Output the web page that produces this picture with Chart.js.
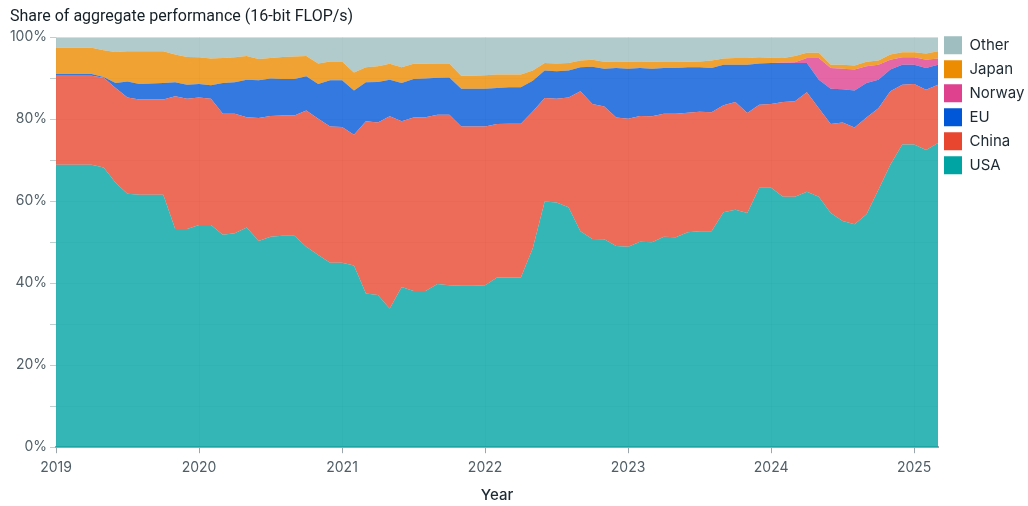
<!DOCTYPE html>
<html><head><meta charset="utf-8">
<script src="https://cdn.jsdelivr.net/npm/chart.js@4.4.1/dist/chart.umd.min.js"></script>
<style>html,body{margin:0;padding:0;background:#fff}canvas{display:block}</style>
</head><body>
<canvas id="c" width="1028" height="506"></canvas>
<script>
const months = [
"2019-01","2019-02","2019-03","2019-04","2019-05","2019-06","2019-07","2019-08","2019-09","2019-10","2019-11","2019-12",
"2020-01","2020-02","2020-03","2020-04","2020-05","2020-06","2020-07","2020-08","2020-09","2020-10","2020-11","2020-12",
"2021-01","2021-02","2021-03","2021-04","2021-05","2021-06","2021-07","2021-08","2021-09","2021-10","2021-11","2021-12",
"2022-01","2022-02","2022-03","2022-04","2022-05","2022-06","2022-07","2022-08","2022-09","2022-10","2022-11","2022-12",
"2023-01","2023-02","2023-03","2023-04","2023-05","2023-06","2023-07","2023-08","2023-09","2023-10","2023-11","2023-12",
"2024-01","2024-02","2024-03","2024-04","2024-05","2024-06","2024-07","2024-08","2024-09","2024-10","2024-11","2024-12",
"2025-01","2025-02","2025-03"];

const usa = [68.9,68.9,68.9,68.9,68.2,64.5,61.8,61.6,61.6,61.6,53.2,53.2,
54.2,54.2,51.8,52.2,53.6,50.3,51.3,51.6,51.6,48.9,46.9,45.0,
45.0,44.3,37.5,37.1,33.8,39.1,38.1,38.1,39.8,39.5,39.4,39.4,
39.5,41.4,41.4,41.4,48.5,59.9,59.7,58.5,52.7,50.8,50.7,49.1,
48.9,50.1,50.0,51.3,51.2,52.4,52.7,52.7,57.3,57.9,57.1,63.3,
63.3,61.1,61.1,62.3,61.1,57.1,55.2,54.4,56.8,62.8,68.9,73.8,
73.8,72.5,74.2];
const china = [21.7,21.7,21.7,21.7,21.9,23.1,23.5,23.2,23.2,23.2,32.4,31.8,
31.1,30.8,29.5,29.1,26.9,30.0,29.5,29.3,29.3,33.2,33.2,33.2,
33.1,31.9,42.0,42.1,46.9,40.4,42.3,42.4,41.3,41.6,38.8,38.8,
38.7,37.4,37.5,37.5,33.4,25.3,25.3,26.8,34.1,32.9,32.4,31.3,
31.2,30.7,30.7,30.0,30.1,29.2,29.1,29.0,26.1,26.3,24.4,20.2,
20.4,23.1,23.3,24.3,21.6,21.7,24.0,23.6,23.6,19.9,17.9,14.6,
14.8,14.7,14.2];
const eu = [0.4,0.4,0.4,0.4,0.2,1.2,3.9,3.8,3.9,4.0,3.4,3.4,
3.3,3.3,7.5,7.7,9.1,9.2,9.1,8.9,8.9,8.4,8.5,11.3,
11.4,10.8,9.5,9.9,8.9,9.3,9.4,9.4,9.0,9.1,9.2,9.2,
9.2,8.8,8.9,8.9,7.5,6.7,6.7,6.6,5.9,9.1,9.2,12.1,
12.2,11.7,11.6,11.2,11.2,11.1,10.9,10.8,9.9,9.1,11.8,10.1,
10.0,9.5,9.3,7.1,6.9,8.6,8.1,9.0,8.4,6.9,5.3,4.9,
4.7,5.3,4.9];
const norway = [0,0,0,0,0,0,0,0,0,0,0,0,
0,0,0,0,0,0,0,0,0,0,0,0,
0,0,0,0,0,0,0,0,0,0,0,0,
0,0,0,0,0,0,0,0,0,0,0,0,
0,0,0,0,0,0,0,0,0,0,0,0,
0,0.1,0.2,1.2,5.3,5.1,5.0,5.1,4.1,3.7,2.4,1.8,
1.8,2.0,1.5];
const japan = [6.4,6.4,6.4,6.4,6.5,7.6,7.4,8.0,7.9,7.8,6.8,6.8,
6.5,6.5,6.1,6.1,5.8,5.2,5.0,5.4,5.5,4.9,5.0,4.6,
4.6,4.4,3.7,3.8,3.9,3.9,3.7,3.6,3.5,3.4,3.2,3.2,
3.3,3.3,3.1,3.1,2.5,1.8,1.9,1.8,1.6,1.7,1.7,1.6,
1.7,1.6,1.7,1.6,1.6,1.3,1.4,1.8,1.5,1.6,1.6,1.5,
1.3,1.1,1.5,1.3,1.3,0.8,1.0,1.0,1.1,1.0,1.3,1.2,
1.2,1.5,1.8];
const other = [2.6,2.6,2.6,2.6,3.2,3.6,3.4,3.4,3.4,3.4,4.2,4.8,
4.9,5.2,5.1,4.9,4.6,5.3,5.1,4.8,4.7,4.6,6.4,5.9,
5.9,8.6,7.3,7.1,6.5,7.3,6.5,6.5,6.4,6.4,9.4,9.4,
9.3,9.1,9.1,9.1,8.1,6.3,6.4,6.3,5.7,5.5,6.0,5.9,
6.0,5.9,6.0,5.9,5.9,6.0,5.9,5.7,5.2,5.1,5.1,4.9,
5.0,5.1,4.6,3.8,3.8,6.7,6.7,6.9,6.0,5.7,4.2,3.7,
3.7,4.0,3.4];

const yearTicks = [2019, 2020, 2021, 2022, 2023, 2024, 2025];
const yTickLabels = ["0%","20%","40%","60%","80%","100%"];
const seriesNames = ["USA","China","EU","Norway","Japan","Other"];
const seriesValues = [usa, china, eu, norway, japan, other];
const seriesColors = ["#00a4a2","#e8462f","#0057d8","#e0418e","#ec8c00","#9ebebf"];

function rgba(hex, a){
  const n = parseInt(hex.slice(1),16);
  return `rgba(${(n>>16)&255},${(n>>8)&255},${n&255},${a})`;
}
const xs = months.map(m => { const [y, mo] = m.split("-").map(Number); return y + (mo-1)/12; });

const FONT = "Inter, 'Noto Sans', sans-serif";
const TEXT = "#1d2a33";
const TICK = "#4f5e66";

const datasets = seriesNames.map((name, i) => ({
  label: name,
  data: seriesValues[i].map((v, j) => ({x: xs[j], y: v})),
  backgroundColor: rgba(seriesColors[i], 0.8),
  borderColor: rgba(seriesColors[i], 0),
  borderWidth: 0,
  pointRadius: 0,
  pointHoverRadius: 0,
  fill: i === 0 ? "origin" : "-1",
  tension: 0
}));

const legendPlacer = {
  id: "legendPlacer",
  beforeLayout(chart) {
    const lg = chart.legend;
    if (lg && !lg._wrappedFit) {
      const orig = lg.fit.bind(lg);
      lg.fit = function () { orig(); this.width = 90; };
      lg._wrappedFit = true;
    }
  },
  afterLayout(chart) {
    if (chart.legend) chart.legend.top = chart.chartArea.top - 7;
  }
};

new Chart(document.getElementById("c"), {
  type: "line",
  data: { datasets },
  plugins: [legendPlacer],
  options: {
    responsive: false,
    animation: false,
    devicePixelRatio: 1,
    layout: { padding: { left: 10, right: 0, top: 0, bottom: 2 } },
    interaction: { mode: "index", intersect: false },
    plugins: {
      tooltip: { enabled: false },
      title: {
        display: true,
        text: "Share of aggregate performance (16-bit FLOP/s)",
        align: "start",
        color: "#141f26",
        font: { family: "Roboto, Inter, sans-serif", size: 16, weight: "400" },
        padding: { top: 7, bottom: 11 }
      },
      legend: {
        position: "right",
        align: "start",
        reverse: true,
        labels: {
          boxWidth: 18,
          boxHeight: 18,
          padding: 6,
          color: TEXT,
          font: { family: FONT, size: 15 },
          generateLabels(chart) {
            const items = Chart.defaults.plugins.legend.labels.generateLabels(chart);
            return items.map(it => Object.assign(it, {
              fillStyle: seriesColors[it.datasetIndex],
              strokeStyle: seriesColors[it.datasetIndex],
              lineWidth: 0
            }));
          }
        }
      }
    },
    scales: {
      x: {
        type: "linear",
        min: xs[0],
        max: xs[xs.length - 1],
        afterBuildTicks(scale) {
          scale.ticks = yearTicks.map(v => ({ value: v }));
        },
        ticks: {
          color: TICK,
          padding: 6,
          maxRotation: 0,
          autoSkip: false,
          font: { family: FONT, size: 14 },
          callback: v => String(v)
        },
        grid: { color: "rgba(0,60,60,0.07)", tickColor: "#9aa6ab", tickLength: 6 },
        border: { color: "#9aa6ab", width: 2 },
        title: {
          display: true,
          text: "Year",
          color: TEXT,
          font: { family: FONT, size: 15, weight: "500" },
          padding: { top: 4, bottom: 0 }
        }
      },
      y: {
        stacked: true,
        min: 0,
        max: 100,
        afterFit(scale) { scale.width = 46; },
        ticks: {
          stepSize: 10,
          color: TICK,
          padding: 3,
          font: { family: FONT, size: 14 },
          callback: v => (v % 20 === 0 ? yTickLabels[v / 20] : "")
        },
        grid: { color: "rgba(0,60,60,0.07)", tickColor: "rgba(0,60,60,0.25)", tickLength: 6 },
        border: { display: false }
      }
    }
  }
});
</script>
</body></html>
